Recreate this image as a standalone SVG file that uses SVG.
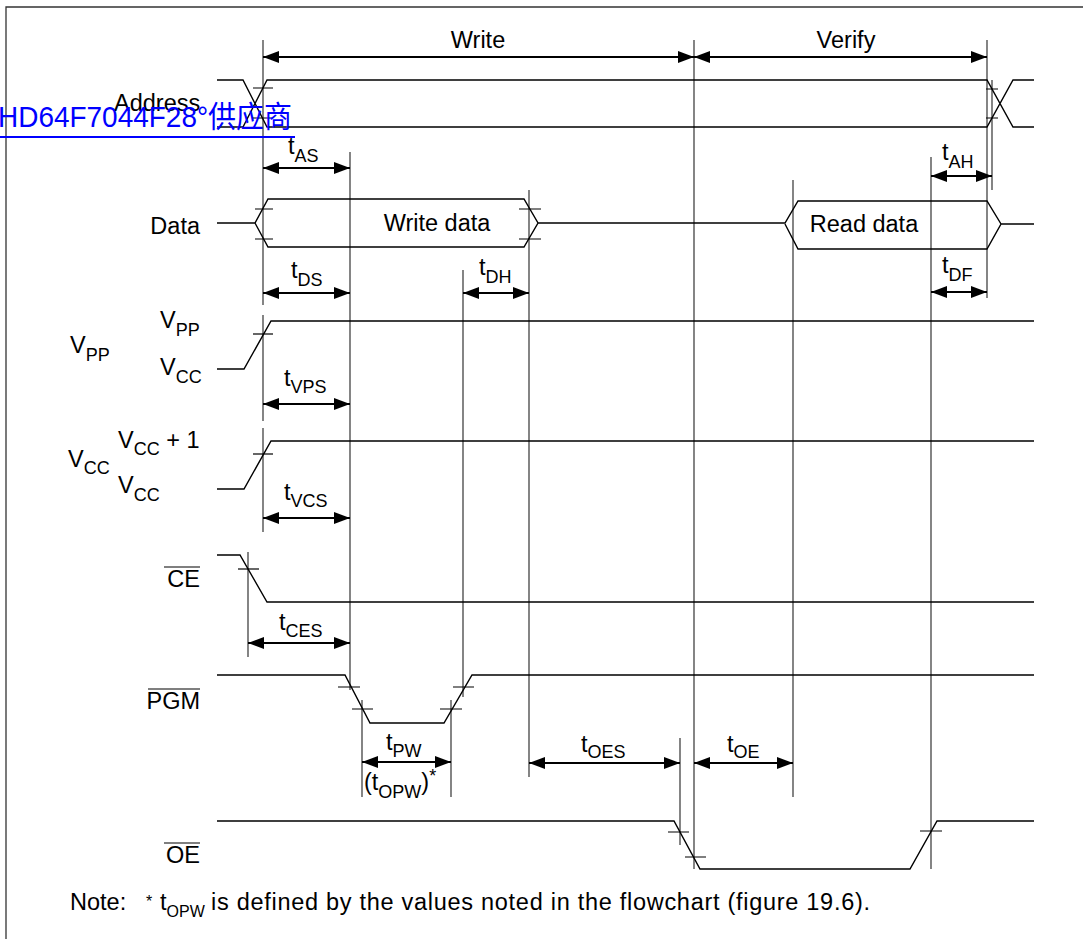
<svg xmlns="http://www.w3.org/2000/svg" width="1083" height="939" viewBox="0 0 1083 939">
<defs>
<marker id="ah" viewBox="0 0 16 12" refX="16" refY="6" markerWidth="16" markerHeight="12" markerUnits="userSpaceOnUse" orient="auto-start-reverse"><path d="M0,0 L16,6 L0,12 z" fill="#000"/></marker>
</defs>
<style>
.sig{fill:none;stroke:#000;stroke-width:1.4}
.ref{fill:none;stroke:#222;stroke-width:1.1}
.tk{fill:none;stroke:#000;stroke-width:1.2}
.arr{stroke:#000;stroke-width:1.8;marker-start:url(#ah);marker-end:url(#ah)}
text{font-family:"Liberation Sans",Arial,sans-serif;font-size:23.5px;fill:#000}
.s{font-size:18px}
.ns{font-size:16px}
.lk{font-family:"Liberation Sans","Noto Sans CJK SC",sans-serif;font-size:30px;fill:#0000ff}
</style>
<rect width="1083" height="939" fill="#fff"/>
<g id="frame"><path d="M6,939 V7 H1083" fill="none" stroke="#333" stroke-width="1.3"/></g>

<g id="reference-lines">
<path class="ref" d="M263,40 V305 M263,315 V421 M263,428 V532 M350,152 V690 M463,270 V697 M529,190 V777 M694,40 V869 M680,738 V845 M793,180 V797 M931,157 V869 M987,40 V298 M992,80 V190 M248,552 V657 M362,700 V797 M451,700 V797"/>
</g>

<g id="connectors">
<line class="arr" x1="263" y1="57" x2="694" y2="57"/>
<line class="arr" x1="694" y1="57" x2="987" y2="57"/>
<line class="arr" x1="263" y1="168" x2="350" y2="168"/>
<line class="arr" x1="931" y1="176" x2="992" y2="176"/>
<line class="arr" x1="263" y1="293" x2="350" y2="293"/>
<line class="arr" x1="463" y1="293" x2="529" y2="293"/>
<line class="arr" x1="931" y1="292" x2="987" y2="292"/>
<line class="arr" x1="263" y1="404" x2="350" y2="404"/>
<line class="arr" x1="263" y1="518" x2="350" y2="518"/>
<line class="arr" x1="248" y1="643" x2="350" y2="643"/>
<line class="arr" x1="362" y1="762" x2="451" y2="762"/>
<line class="arr" x1="529" y1="763" x2="680" y2="763"/>
<line class="arr" x1="694" y1="763" x2="793" y2="763"/>
</g>

<g id="phase-labels">
<text x="478" y="48" text-anchor="middle">Write</text>
<text x="846" y="48" text-anchor="middle">Verify</text>
</g>

<g id="address">
<text x="114" y="111">Address</text>
<path class="sig" d="M217,80 H243 L267,127 H987 L1013,80 H1034 M217,127 H243 L267,80 H987 L1013,127 H1034"/>
<path class="tk" d="M253,88 H273 M252,118 H272 M986,89 H998 M986,118 H998"/>
</g>

<g id="data">
<text x="200" y="234" text-anchor="end">Data</text>
<path class="sig" d="M217,223 H255 L268,199 H524 L538,223 L524,247 H268 L255,223 M538,223 H785 L798,201 H987 L1001,224 L987,249 H798 L785,224 M1001,224 H1034"/>
<path class="tk" d="M255,209 H273 M255,239 H273 M519,209 H541 M519,239 H541"/>
<text x="437" y="231" text-anchor="middle">Write data</text>
<text x="864" y="232" text-anchor="middle">Read data</text>
</g>

<g id="vpp">
<text x="70" y="353">V<tspan class="s" dy="8">PP</tspan></text>
<text x="160" y="328">V<tspan class="s" dy="8">PP</tspan></text>
<text x="160" y="375">V<tspan class="s" dy="8">CC</tspan></text>
<path class="sig" d="M217,369 H244 L271,321 H1034"/>
<path class="tk" d="M253,334 H273"/>
</g>

<g id="vcc">
<text x="68" y="467">V<tspan class="s" dy="7">CC</tspan></text>
<text x="118" y="448">V<tspan class="s" dy="7">CC</tspan><tspan dy="-7"> + 1</tspan></text>
<text x="118" y="493">V<tspan class="s" dy="8">CC</tspan></text>
<path class="sig" d="M217,489 H244 L271,441 H1034"/>
<path class="tk" d="M253,454 H273"/>
</g>

<g id="ce">
<text x="200" y="587" text-anchor="end">CE</text>
<path class="tk" d="M164,567 H200"/>
<path class="sig" d="M217,555 H240 L267,602 H1034"/>
<path class="tk" d="M238,569 H259"/>
</g>

<g id="pgm">
<text x="200" y="709" text-anchor="end">PGM</text>
<path class="tk" d="M148,689 H200"/>
<path class="sig" d="M217,675 H345 L370,723 H444 L472,675 H1034"/>
<path class="tk" d="M338,687 H360 M352,709 H373 M440,709 H462 M453,687 H474"/>
</g>

<g id="oe">
<text x="200" y="863" text-anchor="end">OE</text>
<path class="tk" d="M164,843 H200"/>
<path class="sig" d="M217,821 H674 L700,869 H910 L937,821 H1034"/>
<path class="tk" d="M668,832 H689 M685,857 H706 M920,831 H942"/>
</g>

<g id="timing-labels">
<text x="288" y="154">t<tspan class="s" dy="8">AS</tspan></text>
<text x="942" y="160">t<tspan class="s" dy="8">AH</tspan></text>
<text x="291" y="278">t<tspan class="s" dy="8">DS</tspan></text>
<text x="479" y="275">t<tspan class="s" dy="8">DH</tspan></text>
<text x="942" y="273">t<tspan class="s" dy="8">DF</tspan></text>
<text x="284" y="386">t<tspan class="s" dy="7">VPS</tspan></text>
<text x="284" y="500">t<tspan class="s" dy="7">VCS</tspan></text>
<text x="279" y="630">t<tspan class="s" dy="7">CES</tspan></text>
<text x="386" y="750">t<tspan class="s" dy="7">PW</tspan></text>
<text x="581" y="752">t<tspan class="s" dy="6">OES</tspan></text>
<text x="727" y="752">t<tspan class="s" dy="6">OE</tspan></text>
<text x="364" y="790">(t<tspan class="s" dy="8">OPW</tspan><tspan dy="-8">)</tspan><tspan class="s" dy="-8">*</tspan></text>
</g>

<g id="note">
<text x="70" y="910">Note:<tspan class="ns" x="146" dy="-3">*</tspan><tspan x="160" dy="3">t</tspan><tspan class="ns" dy="7">OPW</tspan></text>
<text x="211" y="910" textLength="659" lengthAdjust="spacing">is defined by the values noted in the flowchart (figure 19.6).</text>
</g>

<g id="link-overlay">
<text class="lk" x="-2" y="127" textLength="294" lengthAdjust="spacingAndGlyphs">HD64F7044F28°供应商</text>
<line x1="0" y1="137" x2="295" y2="137" stroke="#0000ff" stroke-width="2.2"/>
</g>
</svg>
